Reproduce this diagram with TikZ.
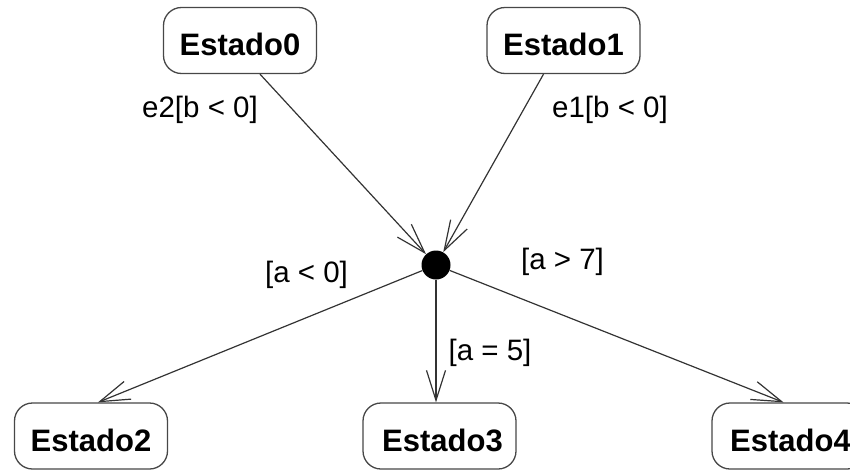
\documentclass[tikz,border=0pt]{standalone}
\usepackage{fontspec}
\setmainfont{Liberation Sans}
\usetikzlibrary{arrows.meta,calc}
\begin{document}
\begin{tikzpicture}[x=1pt,y=-1pt,
  state/.style={draw=black!72, line width=1.3pt, rounded corners=18pt,
    minimum width=153pt, minimum height=66pt, inner sep=0pt,
    font=\fontsize{31}{36}\selectfont\bfseries, text height=30pt, text depth=0pt},
  flow/.style={draw=black!80, line width=1.2pt,
    -{Straight Barb[length=30pt,width=19pt,line width=1.2pt]}},
  lbl/.style={font=\fontsize{29.5}{34}\selectfont, inner sep=0pt}]
\useasboundingbox (0,0) rectangle (850,469);
\node[state] (e0) at (240,40.5) {Estado0};
\node[state] (e1) at (563.5,40.5) {Estado1};
\node[state] (e2) at (91,436) {Estado2};
\node[state] (e3) at (439.5,436) {Estado3\hspace*{-6pt}};
\node[state] (e4) at (788.5,436) {\hspace*{4pt}Estado4};
\node[circle, fill=black, minimum size=29pt, inner sep=0pt] (dot) at (436,265) {};
\draw[flow] ($(e0.south)+(20,0)$) -- (dot);
\draw[flow] ($(e1.south)+(-20,0)$) -- (dot);
\draw[flow] (dot) -- ($(e2.north)+(7,0)$);
\draw[flow] (dot) -- (dot |- e3.north);
\draw[flow] (dot) -- ($(e4.north)+(-5,0)$);
\node[lbl] (l0) at (200,109.5) {e2[b < 0]};
\node[lbl] (l1) at (610,110) {e1[b < 0]};
\node[lbl] (l2) at (306.5,275) {[a < 0]};
\node[lbl] (l3) at (562.5,261.5) {[a > 7]};
\node[lbl] (l4) at (490,352.5) {[a = 5]};
\end{tikzpicture}
\end{document}
